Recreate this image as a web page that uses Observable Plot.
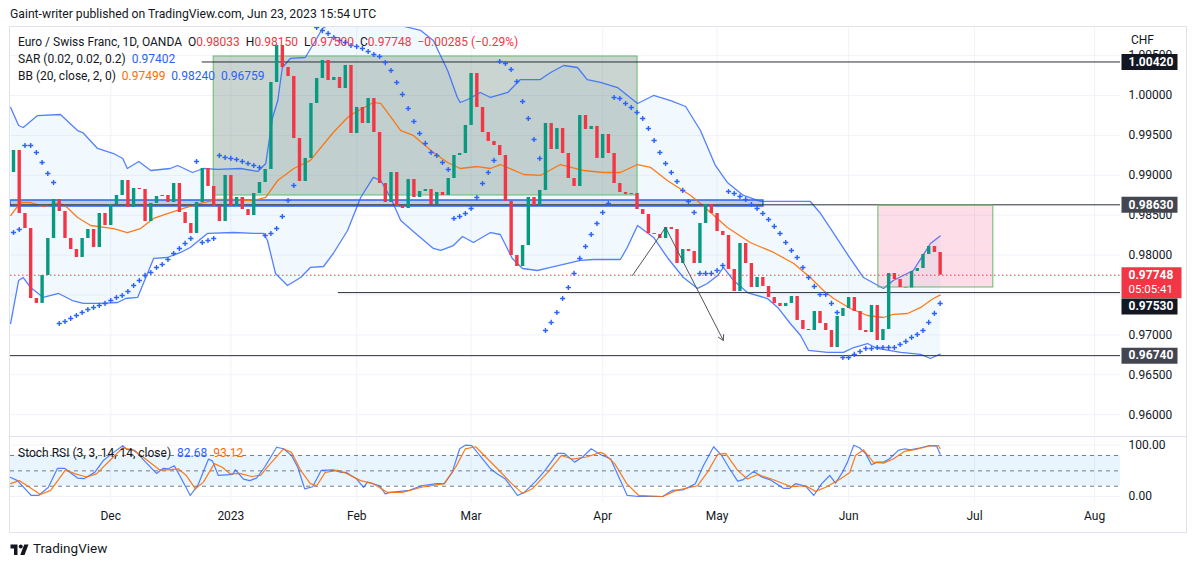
<!DOCTYPE html>
<html><head><meta charset="utf-8">
<script src="https://cdn.jsdelivr.net/npm/d3@7"></script>
<script src="https://cdn.jsdelivr.net/npm/@observablehq/plot@0.6"></script>
<style>
body{margin:0;background:#fff;font-family:Roboto,"Liberation Sans",sans-serif;color:#131722;}
#wrap{position:relative;width:1195px;height:565px;overflow:hidden;background:#fff;}
.abs{position:absolute;white-space:nowrap;}
.lg{font-size:12px;line-height:16px;color:#131722;}
.r{color:#F23645}.b{color:#2962FF}.o{color:#FF6D00}
</style></head><body><div id="wrap">
<div class="abs" style="left:10px;top:6px;font-size:12.2px;line-height:16px;">Gaint-writer published on TradingView.com, Jun 23, 2023 15:54 UTC</div>
<div class="abs" style="left:9px;top:26px;width:1176px;height:505px;border:1px solid #e0e3eb;"></div>
<div id="main" class="abs" style="left:10px;top:27px;"></div>
<div class="abs" style="left:10px;top:436px;width:1176px;height:1px;background:#e0e3eb;"></div>
<div id="stoch" class="abs" style="left:10px;top:437px;"></div>
<div class="abs lg" style="left:18px;top:34px;">Euro / Swiss Franc, 1D, OANDA&nbsp;&nbsp;O<span class="r">0.98033</span>&nbsp;&nbsp;H<span class="r">0.98150</span>&nbsp;&nbsp;L<span class="r">0.97500</span>&nbsp;&nbsp;C<span class="r">0.97748</span>&nbsp;&nbsp;<span class="r">−0.00285 (−0.29%)</span></div>
<div class="abs lg" style="left:18px;top:51px;">SAR (0.02, 0.02, 0.2)&nbsp;&nbsp;<span class="b">0.97402</span></div>
<div class="abs lg" style="left:18px;top:68px;">BB (20, close, 2, 0)&nbsp;&nbsp;<span class="o">0.97499</span>&nbsp;&nbsp;<span class="b">0.98240</span>&nbsp;&nbsp;<span class="b">0.96759</span></div>
<div class="abs lg" style="left:18px;top:445px;">Stoch RSI (3, 3, 14, 14, close)&nbsp;&nbsp;<span class="b">82.68</span>&nbsp;&nbsp;<span class="o">93.12</span></div>
<div class="abs" style="left:1131px;top:33px;font-size:12px;line-height:14px;">CHF</div>
<div class="abs" style="left:10px;top:541px;"><svg width="19" height="13" viewBox="0 0 36 26"><path d="M14 24H7V11H0V3h14v21zM28 24h-8.5l8-21h8.5L28 24z" fill="#131722"/><circle cx="20.5" cy="7" r="4" fill="#131722"/></svg></div>
<div class="abs" style="left:33px;top:540px;font-size:13.5px;line-height:16px;">TradingView</div>
</div>
<script>
// ---------- data ----------
const firstOpen = 0.99035;
const closes = [
0.99311,0.98521,0.98333,0.97456,0.97394,0.97744,0.98208,0.98697,0.98546,0.98208,
0.98070,0.97970,0.98208,0.98321,0.98095,0.98521,0.98371,0.98634,0.98747,0.98935,
0.98597,0.98835,0.98822,0.98421,0.98647,0.98734,0.98747,0.98659,0.98897,0.98534,
0.98396,0.98271,0.98659,0.99085,0.98860,0.98609,0.98421,0.98998,0.98609,0.98722,
0.98571,0.98496,0.98772,0.98910,0.99073,1.00163,1.00627,1.00351,1.00238,0.99461,
0.98922,0.99211,0.99900,1.00213,1.00439,1.00188,1.00226,1.00088,1.00376,0.99524,
0.99850,0.99649,0.99962,0.99536,0.98897,0.98659,0.99035,0.98609,0.98584,0.98947,
0.98722,0.98797,0.98822,0.98634,0.98785,0.98747,0.98960,0.99248,0.99273,0.99624,
1.00276,0.99850,0.99536,0.99424,0.99373,0.99248,0.98672,0.97995,0.97857,0.98120,
0.98722,0.98622,0.98810,0.99649,0.99323,0.99586,0.99273,0.98960,0.98860,0.99749,
0.99574,0.99612,0.99211,0.99511,0.99273,0.98897,0.98785,0.98759,0.98772,0.98571,
0.98509,0.98271,0.98258,0.98208,0.98346,0.98321,0.97895,0.98070,0.98045,0.97895,
0.98396,0.98634,0.98521,0.98296,0.98246,0.97820,0.97544,0.98145,0.97895,0.97594,
0.97719,0.97607,0.97469,0.97394,0.97356,0.97394,0.97481,0.97181,0.97068,0.97055,
0.97293,0.97143,0.97055,0.96842,0.97231,0.97331,0.97469,0.97293,0.97055,0.97030,
0.97369,0.96930,0.97068,0.97769,0.97694,0.97594,0.97588,0.97795,0.97832,0.98008,
0.98108,0.98033,0.97748];
const sar = [
0.98283,0.98321,0.99373,0.99373,0.99286,0.99160,0.99023,0.98910,
0.97143,0.97168,0.97206,0.97243,0.97281,0.97318,0.97344,0.97369,0.97394,0.97431,0.97469,0.97494,0.97544,0.97619,0.97682,0.97745,0.97782,0.97845,0.97882,0.97945,0.98020,0.98083,0.98146,0.98208,
0.99173,
0.98158,0.98183,0.98208,
0.99248,0.99223,0.99211,0.99198,0.99173,0.99148,0.99123,0.99098,
0.98246,0.98271,0.98333,0.98484,0.98684,0.98872,
1.00965,1.00927,1.00890,1.00852,1.00814,1.00777,1.00727,1.00689,1.00664,1.00627,1.00614,1.00589,1.00551,1.00514,1.00489,1.00413,1.00313,1.00163,1.00013,0.99837,0.99674,0.99524,0.99399,0.99286,0.99248,0.99160,0.99073,
0.98459,0.98484,0.98521,0.98584,0.98722,0.98897,0.99035,0.99186,
1.00426,1.00401,1.00326,1.00175,0.99925,0.99712,0.99449,0.99211,
0.97055,0.97156,0.97281,0.97456,0.97594,0.97770,0.97958,0.98108,0.98258,0.98396,0.98534,0.98647,
0.99975,0.99962,0.99900,0.99850,0.99787,0.99712,0.99586,0.99436,0.99286,0.99148,0.99035,0.98922,0.98810,0.98672,0.98534,
0.97770,0.97770,0.97770,0.97807,0.97870,
0.98797,0.98772,0.98734,0.98697,0.98634,0.98584,0.98521,0.98446,0.98359,0.98271,0.98158,0.98058,0.97970,0.97845,0.97719,0.97607,0.97506,0.97506,0.97394,0.97281,
0.96717,0.96717,0.96755,0.96792,0.96830,0.96830,0.96842,0.96842,0.96842,0.96842,0.96880,0.96918,0.96968,0.97005,0.97055,0.97156,0.97269,0.97394];

const bbUpper = [[-0.5,0.99850],[0.9,0.99624],[1.7,0.99599],[4.2,0.99749],[8.2,0.99762],[11.2,0.99561],[12.1,0.99536],[14.7,0.99336],[17.5,0.99273],[19.1,0.99211],[19.9,0.99085],[21.9,0.99173],[24.0,0.99060],[27.4,0.99085],[28.7,0.99123],[31.3,0.99035],[33.2,0.99085],[35.7,0.99073],[39.7,0.99085],[42.7,0.99048],[44.1,0.99148],[45.3,0.99724],[46.2,0.99937],[47.0,1.00351],[48.4,1.00464],[51.0,1.00476],[52.8,1.00689],[54.0,1.00840],[58.0,1.01002],[62.4,1.01065],[67.7,1.00877],[71.2,1.00815],[73.4,1.00689],[75.9,1.00313],[77.6,0.99975],[78.1,0.99912],[79.4,0.99950],[81.6,1.00038],[83.4,0.99975],[86.4,1.00038],[88.6,1.00200],[92.1,1.00200],[93.9,1.00288],[96.2,1.00376],[98.6,1.00351],[100.3,1.00200],[102.6,1.00163],[105.6,1.00100],[109.1,0.99900],[111.9,1.00000],[114.9,0.99937],[117.5,0.99862],[120.1,0.99561],[122.7,0.99123],[124.8,0.98910],[127.6,0.98747],[130.6,0.98672],[135.3,0.98672],[139.3,0.98672],[141.1,0.98521],[143.4,0.98271],[145.8,0.98008],[148.6,0.97719],[152.1,0.97582],[153.8,0.97682],[157.3,0.97807],[160.3,0.98145],[162,0.98240]];
const bbLower = [[-0.5,0.97143],[0.9,0.97682],[1.7,0.97719],[3.0,0.97594],[5.2,0.97469],[7.9,0.97519],[10.3,0.97431],[12.2,0.97394],[15.2,0.97394],[18.2,0.97406],[19.6,0.97456],[21.7,0.97469],[22.7,0.97644],[24.5,0.97958],[26.9,0.97970],[29.2,0.98033],[30.9,0.98095],[33.9,0.98271],[38.5,0.98283],[42.0,0.98271],[43.7,0.98271],[44.4,0.98183],[45.8,0.97770],[47.9,0.97619],[50.2,0.97719],[51.9,0.97845],[54.2,0.97857],[55.9,0.98020],[58.4,0.98308],[60.7,0.98722],[62.9,0.98973],[64.2,0.98935],[65.9,0.98722],[67.7,0.98434],[69.9,0.98296],[73.4,0.98083],[74.7,0.98058],[76.9,0.98120],[78.5,0.98233],[80.4,0.98158],[83.4,0.98283],[85.1,0.98258],[87.2,0.97958],[89.0,0.97832],[91.6,0.97807],[93.9,0.97845],[96.9,0.97895],[99.1,0.97933],[101.4,0.97945],[106.1,0.97945],[107.3,0.98095],[109.1,0.98371],[111.9,0.98221],[114.3,0.97970],[117.1,0.97719],[119.6,0.97582],[121.3,0.97644],[123.1,0.97744],[124.1,0.97845],[125.9,0.97682],[128.3,0.97531],[131.8,0.97456],[133.6,0.97344],[135.8,0.97143],[137.6,0.96993],[139.0,0.96805],[142.3,0.96780],[145.1,0.96780],[146.9,0.96842],[149.3,0.96892],[151.0,0.96830],[155.1,0.96780],[158.6,0.96755],[160.3,0.96704],[162,0.96759]];
const bbBasis = [[-0.5,0.98496],[1.2,0.98659],[3.0,0.98659],[5.2,0.98609],[7.9,0.98659],[9.4,0.98597],[11.2,0.98471],[13.5,0.98371],[17.5,0.98333],[19.9,0.98283],[22.2,0.98333],[24.5,0.98459],[26.9,0.98521],[29.7,0.98584],[32.7,0.98647],[35.7,0.98697],[38.5,0.98697],[42.0,0.98684],[44.1,0.98722],[46.2,0.98935],[49.0,0.99085],[51.9,0.99186],[55.9,0.99536],[58.4,0.99724],[59.4,0.99774],[62.9,0.99912],[64.2,0.99900],[66.4,0.99687],[67.7,0.99561],[69.9,0.99499],[73.4,0.99286],[75.9,0.99160],[78.1,0.99085],[81.1,0.99110],[83.4,0.99085],[85.1,0.99135],[89.2,0.99010],[92.1,0.98998],[95.6,0.99135],[99.7,0.99060],[103.1,0.99035],[106.1,0.99035],[109.1,0.99135],[111.4,0.99098],[114.3,0.98935],[118.4,0.98747],[120.1,0.98647],[124.8,0.98346],[128.8,0.98158],[132.9,0.98033],[136.4,0.97895],[139.3,0.97719],[141.6,0.97556],[143.4,0.97456],[146.3,0.97331],[149.3,0.97243],[152.1,0.97218],[153.8,0.97256],[156.3,0.97268],[158.6,0.97344],[160.8,0.97456],[162,0.97499]];

const stochK = [[-0.6,37.6],[0.7,31],[3.1,2],[4.4,2],[6.1,18],[7.7,55],[8.9,55],[11.2,36],[12.4,35],[14.2,47],[15.7,70],[17.5,86],[19.1,99],[19.8,92],[21.2,90],[23.1,67],[25.0,45],[26.2,55],[27.1,54],[28.1,60],[29.2,38],[30.9,2],[32.2,21],[34.1,73],[34.8,69],[35.8,41],[37.2,42],[38.3,43],[38.8,52],[40.2,34],[41.3,31],[42.5,36],[43.9,57],[46.0,96],[47.2,93],[48.6,80],[49.7,57],[50.9,15],[52.3,19],[53.8,51],[55.9,52],[57.3,47],[58.2,47],[60.0,34],[61.2,18],[61.9,28],[64.0,21],[65.0,5],[65.9,8],[69.2,12],[71.3,21],[74.0,25],[75.3,25],[76.7,47],[78.0,93],[79.0,100],[80.1,99],[81.3,83],[83.4,54],[84.6,44],[86.0,34],[88.1,2],[89.3,8],[91.4,31],[93.0,52],[95.1,84],[96.3,84],[98.1,67],[99.5,77],[101.0,93],[102.6,82],[104.4,73],[106.1,31],[107.3,2],[109.3,0],[113.5,0],[115.2,12],[117.1,13],[119.2,25],[120.6,60],[122.4,97],[123.8,80],[125.2,54],[126.6,30],[127.6,33],[129.4,49],[130.8,38],[132.2,33],[134.6,16],[135.7,16],[136.7,25],[138.5,20],[139.9,2],[141.3,25],[142.7,41],[143.7,26],[144.8,45],[145.8,67],[146.9,100],[147.9,95],[149.0,83],[150.0,62],[151.0,67],[152.1,67],[153.1,73],[154.7,90],[155.8,93],[156.8,91],[158.6,95],[160.0,99],[161.4,98],[162,82.68]];
const stochD = [[-0.5,25],[1.0,31],[2.8,18],[4.7,4],[6.5,12],[9.1,52],[10.8,44],[12.8,38],[14.5,44],[17.1,73],[19.1,95],[20.8,91],[23.1,73],[25.5,52],[27.1,52],[28.8,54],[30.2,41],[31.8,15],[33.2,28],[35.1,64],[36.5,57],[37.9,44],[39.5,45],[41.6,39],[43.2,41],[44.6,60],[47.2,93],[48.6,86],[50.2,51],[51.9,25],[53.0,21],[54.5,47],[56.6,51],[58.2,45],[60.7,31],[62.9,25],[65.4,8],[68.0,8],[71.3,18],[75.3,25],[77.3,57],[79.0,93],[80.8,97],[82.3,80],[84.6,54],[87.1,25],[89.0,6],[90.7,15],[93.4,47],[95.8,80],[97.7,73],[100.2,77],[102.6,86],[103.3,83],[105.1,64],[107.2,25],[109.3,2],[113.5,0],[115.9,12],[119.6,21],[121.3,47],[123.1,82],[124.5,84],[126.6,51],[128.3,34],[130.1,43],[132.5,34],[136.0,19],[138.5,21],[140.2,10],[142.0,18],[144.4,33],[146.2,47],[147.2,80],[148.6,91],[150.3,67],[152.1,65],[153.8,73],[155.8,88],[158.2,93],[160.3,99],[161.7,99],[162,93.12]];
const stochLevels = [80, 50, 20];

const monthIdx = [17, 38, 60, 80, 103, 123, 146, 168, 189];
const monthLabels = ["Dec","2023","Feb","Mar","Apr","May","Jun","Jul","Aug"];
const priceGrid = [0.960,0.965,0.970,0.975,0.980,0.985,0.990,0.995,1.000,1.005];
// 0.97500 label is fully hidden behind the price labels in the reference
const priceTickLabels = [0.960,0.965,0.970,0.980,0.985,0.990,0.995,1.000,1.005];

// drawings
const levelValues = [1.00420, 0.98630, 0.97530, 0.96740];
const levelStartIdx = [33.0, null, 56.8, null];
const grayBox = {i1: 35.0, i2: 109.1, p1: 0.98747, p2: 1.00489};
const blueZone = {i2: 131.1, p1: 0.98609, p2: 0.98684};
const pinkBox = {i1: 151.2, i2: 171.3, p1: 0.97594, p2: 0.98622};
const drawIdx = [108.2, 114.0, 124.1];
const drawVal = [0.97744, 0.98346, 0.96930];
const lastPrice = 0.97748, countdown = "05:05:41";

// ---------- build ----------
const GREEN = "#089981", RED = "#F23645", BLUE = "#2962FF", ORANGE = "#FF6D00", GRID = "#f0f3fa";
const FONT = "Roboto, 'Liberation Sans', sans-serif";
const xDomain = [-0.524, 193.53];
const candles = closes.map((c, i) => ({i, o: i === 0 ? firstOpen : closes[i - 1], c}));
const sarData = sar.map((v, i) => ({i, v}));
const pt = a => a.map(([i, v]) => ({i, v}));
const bandPoly = pt(bbUpper).concat(pt(bbLower).reverse());
const fmt5 = d3.format(".5f");

const boxSym = {draw(ctx) { ctx.rect(1, -8, 56, 16); }};
const redSym = {draw(ctx) { ctx.rect(1, -8, 60, 31); }};
const levelBg = ["#131722", "#434651", "#131722", "#434651"];
const boxes = levelValues.map((v, k) => ({v, bg: levelBg[k]}));
const boxesFixed = boxes.filter(d => d.v !== 0.97530);
const boxShift = boxes.filter(d => d.v === 0.97530);

const main = Plot.plot({
  width: 1176, height: 408, marginTop: 0, marginBottom: 0, marginLeft: 0, marginRight: 66,
  style: {fontFamily: FONT, fontSize: "12px", color: "#131722", background: "transparent"},
  x: {domain: xDomain, axis: null},
  y: {domain: [0.957393, 1.008521], axis: "right", ticks: priceTickLabels, tickFormat: fmt5, tickSize: 0, tickPadding: 8, label: null},
  marks: [
    Plot.ruleY(priceGrid, {stroke: GRID, clip: true}),
    Plot.ruleX(monthIdx, {stroke: GRID, clip: true}),
    Plot.line(bandPoly, {x: "i", y: "v", fill: "rgba(33,150,243,0.06)", stroke: "none", clip: true}),
    Plot.rect([grayBox], {x1: "i1", x2: "i2", y1: "p1", y2: "p2", fill: "rgba(100,130,118,0.34)", stroke: "#66bb6a", strokeWidth: 1, clip: true}),
    Plot.rect([blueZone], {x1: () => xDomain[0], x2: "i2", y1: "p1", y2: "p2", fill: "rgba(100,120,150,0.35)", stroke: BLUE, strokeWidth: 1.5, clip: true}),
    Plot.line(pt(bbUpper), {x: "i", y: "v", stroke: BLUE, strokeOpacity: 0.8, strokeWidth: 1.3, clip: true}),
    Plot.line(pt(bbLower), {x: "i", y: "v", stroke: BLUE, strokeOpacity: 0.8, strokeWidth: 1.3, clip: true}),
    Plot.line(pt(bbBasis), {x: "i", y: "v", stroke: ORANGE, strokeOpacity: 0.9, strokeWidth: 1.3, clip: true}),
    Plot.ruleY(levelValues.map((v, k) => ({v, s: levelStartIdx[k] ?? xDomain[0]})), {y: "v", x1: "s", x2: () => xDomain[1], stroke: "#2a2e39", strokeWidth: 1, clip: true}),
    Plot.rect([pinkBox], {x1: "i1", x2: "i2", y1: "p1", y2: "p2", fill: "rgba(233,30,99,0.15)", stroke: "#66bb6a", strokeWidth: 1, clip: true}),
    Plot.ruleX(candles, {x: "i", y1: "o", y2: "c", stroke: d => d.c >= d.o ? GREEN : RED, strokeWidth: 3.4, clip: true}),
    Plot.dot(sarData, {x: "i", y: "v", symbol: "plus", stroke: BLUE, r: 1.8, strokeWidth: 1.4, clip: true}),
    Plot.ruleY([lastPrice], {stroke: RED, strokeDasharray: "1.5,2.5", clip: true}),
    Plot.line(drawIdx.slice(0, 2).map((i, k) => ({i, v: drawVal[k]})), {x: "i", y: "v", stroke: "#555", strokeWidth: 1, clip: true}),
    Plot.arrow([{x1: drawIdx[1], y1: drawVal[1], x2: drawIdx[2], y2: drawVal[2]}], {x1: "x1", y1: "y1", x2: "x2", y2: "y2", stroke: "#555", strokeWidth: 1, headLength: 9}),
    Plot.dot(boxesFixed, {y: "v", frameAnchor: "right", symbol: boxSym, fill: "bg", stroke: "none", r: 5}),
    Plot.text(boxesFixed, {y: "v", text: d => fmt5(d.v), frameAnchor: "right", dx: 8, textAnchor: "start", fill: "white", fontWeight: "bold", fontSize: 12}),
    Plot.dot([lastPrice], {y: d => d, frameAnchor: "right", symbol: redSym, fill: RED, stroke: "none", r: 5}),
    Plot.text([lastPrice], {y: d => d, text: d => fmt5(d), frameAnchor: "right", dx: 8, textAnchor: "start", fill: "white", fontWeight: "bold", fontSize: 12}),
    Plot.text([lastPrice], {y: d => d, text: () => countdown, frameAnchor: "right", dx: 8, dy: 14, textAnchor: "start", fill: "white", fontSize: 11.5}),
    Plot.dot(boxShift, {y: "v", frameAnchor: "right", symbol: boxSym, fill: "bg", stroke: "none", r: 5, dy: 14}),
    Plot.text(boxShift, {y: "v", text: d => fmt5(d.v), frameAnchor: "right", dx: 8, dy: 14, textAnchor: "start", fill: "white", fontWeight: "bold", fontSize: 12})
  ]
});
document.getElementById("main").appendChild(main);

const stoch = Plot.plot({
  width: 1176, height: 95, marginTop: 0, marginBottom: 30, marginLeft: 0, marginRight: 66,
  style: {fontFamily: FONT, fontSize: "12px", color: "#131722", background: "transparent"},
  x: {domain: xDomain, ticks: monthIdx, tickFormat: i => monthLabels[monthIdx.indexOf(i)], tickSize: 0, tickPadding: 9, label: null},
  y: {domain: [-11.7, 115], axis: "right", ticks: [0, 100], tickFormat: d3.format(".2f"), tickSize: 0, tickPadding: 8, label: null},
  marks: [
    Plot.ruleX(monthIdx, {stroke: GRID}),
    Plot.ruleY([0, 100], {stroke: GRID}),
    Plot.rect([{}], {x1: () => xDomain[0], x2: () => xDomain[1], y1: () => stochLevels[2], y2: () => stochLevels[0], fill: "rgba(33,150,243,0.1)"}),
    Plot.ruleY(stochLevels, {stroke: "#787b86", strokeDasharray: "4,4", strokeWidth: 1}),
    Plot.line(pt(stochK), {x: "i", y: "v", stroke: BLUE, strokeOpacity: 0.8, strokeWidth: 1.2, clip: true}),
    Plot.line(pt(stochD), {x: "i", y: "v", stroke: ORANGE, strokeOpacity: 0.9, strokeWidth: 1.2, clip: true})
  ]
});
document.getElementById("stoch").appendChild(stoch);
</script>
</body></html>
